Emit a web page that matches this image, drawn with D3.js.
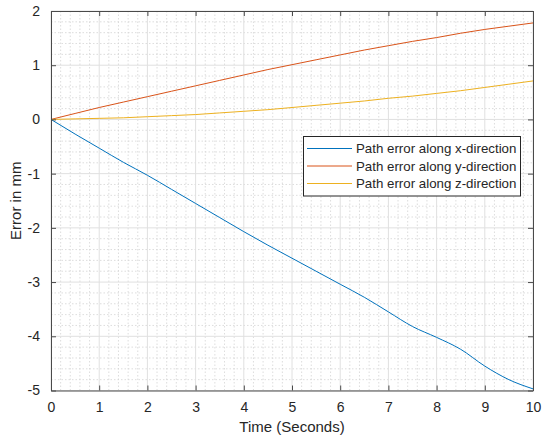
<!DOCTYPE html>
<html>
<head>
<meta charset="utf-8">
<script src="https://cdn.jsdelivr.net/npm/d3@7"></script>
<style>
  html, body { margin: 0; padding: 0; background: #fff; }
  svg { display: block; font-family: "Liberation Sans", Arial, sans-serif; }
</style>
</head>
<body>
<svg id="chart" width="542" height="438"></svg>
<script>
// Sample times (s)
const time = [0, 0.5, 1, 1.5, 2, 2.5, 3, 3.5, 4, 4.5, 5, 5.5, 6, 6.5, 7, 7.5, 8, 8.5, 9, 9.5, 10];
// Path errors (mm)
const errX = [0, -0.27, -0.53, -0.79, -1.03, -1.29, -1.55, -1.81, -2.07, -2.32, -2.56, -2.80, -3.04, -3.28, -3.55, -3.82, -4.02, -4.24, -4.55, -4.80, -4.97];
const errY = [0, 0.11, 0.22, 0.32, 0.42, 0.52, 0.62, 0.72, 0.82, 0.92, 1.01, 1.10, 1.19, 1.28, 1.36, 1.44, 1.51, 1.59, 1.66, 1.72, 1.78];
const errZ = [0, 0.01, 0.02, 0.03, 0.05, 0.07, 0.09, 0.12, 0.15, 0.18, 0.22, 0.26, 0.30, 0.34, 0.39, 0.43, 0.48, 0.53, 0.59, 0.65, 0.71];

const seriesNames = ["Path error along x-direction", "Path error along y-direction", "Path error along z-direction"];
const seriesColors = ["#0072BD", "#D95319", "#EDB120"];
const xTicks = [0, 1, 2, 3, 4, 5, 6, 7, 8, 9, 10];
const yTicks = [-5, -4, -3, -2, -1, 0, 1, 2];

const svg = d3.select("#chart");
const plotL = 51, plotR = 533, plotT = 11, plotB = 390.5;

const x = d3.scaleLinear().domain([0, 10]).range([plotL, plotR]);
const y = d3.scaleLinear().domain([-5, 2]).range([plotB, plotT]);

const g = svg.append("g");

// Minor grid (dotted)
const xMinor = d3.range(0, 10.001, 0.2).filter(v => Math.abs(v - Math.round(v)) > 1e-6);
const yMinor = d3.range(-5, 2.001, 0.2).filter(v => Math.abs(v - Math.round(v)) > 1e-6);
g.selectAll(".xminor").data(xMinor).enter().append("line")
  .attr("x1", d => x(d)).attr("x2", d => x(d)).attr("y1", plotT).attr("y2", plotB)
  .attr("stroke", "#d4d4d4").attr("stroke-width", 0.8).attr("stroke-dasharray", "1.5,2");
g.selectAll(".yminor").data(yMinor).enter().append("line")
  .attr("y1", d => y(d)).attr("y2", d => y(d)).attr("x1", plotL).attr("x2", plotR)
  .attr("stroke", "#d4d4d4").attr("stroke-width", 0.8).attr("stroke-dasharray", "1.5,2");

// Major grid
g.selectAll(".xmajor").data(xTicks).enter().append("line")
  .attr("x1", d => x(d)).attr("x2", d => x(d)).attr("y1", plotT).attr("y2", plotB)
  .attr("stroke", "#e0e0e0").attr("stroke-width", 1);
g.selectAll(".ymajor").data(yTicks).enter().append("line")
  .attr("y1", d => y(d)).attr("y2", d => y(d)).attr("x1", plotL).attr("x2", plotR)
  .attr("stroke", "#e0e0e0").attr("stroke-width", 1);

// Data lines
const line = d3.line().x(d => x(d[0])).y(d => y(d[1])).curve(d3.curveMonotoneX);
[errX, errY, errZ].forEach((vals, i) => {
  g.append("path")
    .datum(time.map((t, k) => [t, vals[k]]))
    .attr("fill", "none")
    .attr("stroke", seriesColors[i])
    .attr("stroke-width", 1)
    .attr("d", line);
});

// Axes (box with inward ticks on all sides)
const axisColor = "#4a4a4a";
const tickLen = 5;
const fmt = d => String(d);
const xAxisB = d3.axisBottom(x).tickValues(xTicks).tickSizeInner(-tickLen).tickSizeOuter(0).tickPadding(12).tickFormat(fmt);
const xAxisT = d3.axisTop(x).tickValues(xTicks).tickSizeInner(-tickLen).tickSizeOuter(0).tickFormat("");
const yAxisL = d3.axisLeft(y).tickValues(yTicks).tickSizeInner(-tickLen).tickSizeOuter(0).tickPadding(11).tickFormat(fmt);
const yAxisR = d3.axisRight(y).tickValues(yTicks).tickSizeInner(-tickLen).tickSizeOuter(0).tickFormat("");

function styleAxis(sel) {
  sel.select(".domain").attr("stroke", axisColor).attr("stroke-width", 1);
  sel.selectAll(".tick line").attr("stroke", axisColor).attr("stroke-width", 1);
  sel.selectAll(".tick text").attr("fill", "#262626").attr("font-size", 14)
    .attr("font-family", "'Liberation Sans', Arial, sans-serif");
}
svg.append("g").attr("transform", `translate(0,${plotB})`).call(xAxisB).call(styleAxis);
svg.append("g").attr("transform", `translate(0,${plotT})`).call(xAxisT).call(styleAxis);
svg.append("g").attr("transform", `translate(${plotL},0)`).call(yAxisL).call(styleAxis);
svg.append("g").attr("transform", `translate(${plotR},0)`).call(yAxisR).call(styleAxis);

// Axis titles
svg.append("text")
  .attr("x", (plotL + plotR) / 2).attr("y", 432)
  .attr("text-anchor", "middle").attr("font-size", 15).attr("fill", "#262626")
  .text("Time (Seconds)");
svg.append("text")
  .attr("transform", `translate(21,${(plotT + plotB) / 2}) rotate(-90)`)
  .attr("text-anchor", "middle").attr("font-size", 15).attr("fill", "#262626")
  .text("Error in mm");

// Legend
const lg = svg.append("g");
const lgX = 303.5, lgY = 136.5, lgW = 217, lgH = 59.5;
lg.append("rect").attr("x", lgX).attr("y", lgY).attr("width", lgW).attr("height", lgH)
  .attr("fill", "#fff").attr("stroke", "#262626").attr("stroke-width", 1);
seriesNames.forEach((name, i) => {
  const cy = 148.5 + i * 17.5;
  lg.append("line").attr("x1", 307).attr("x2", 352).attr("y1", cy).attr("y2", cy)
    .attr("stroke", seriesColors[i]).attr("stroke-width", 1);
  lg.append("text").attr("x", 356).attr("y", cy + 4.6)
    .attr("font-size", 13.3).attr("fill", "#262626").text(name);
});
</script>
</body>
</html>
